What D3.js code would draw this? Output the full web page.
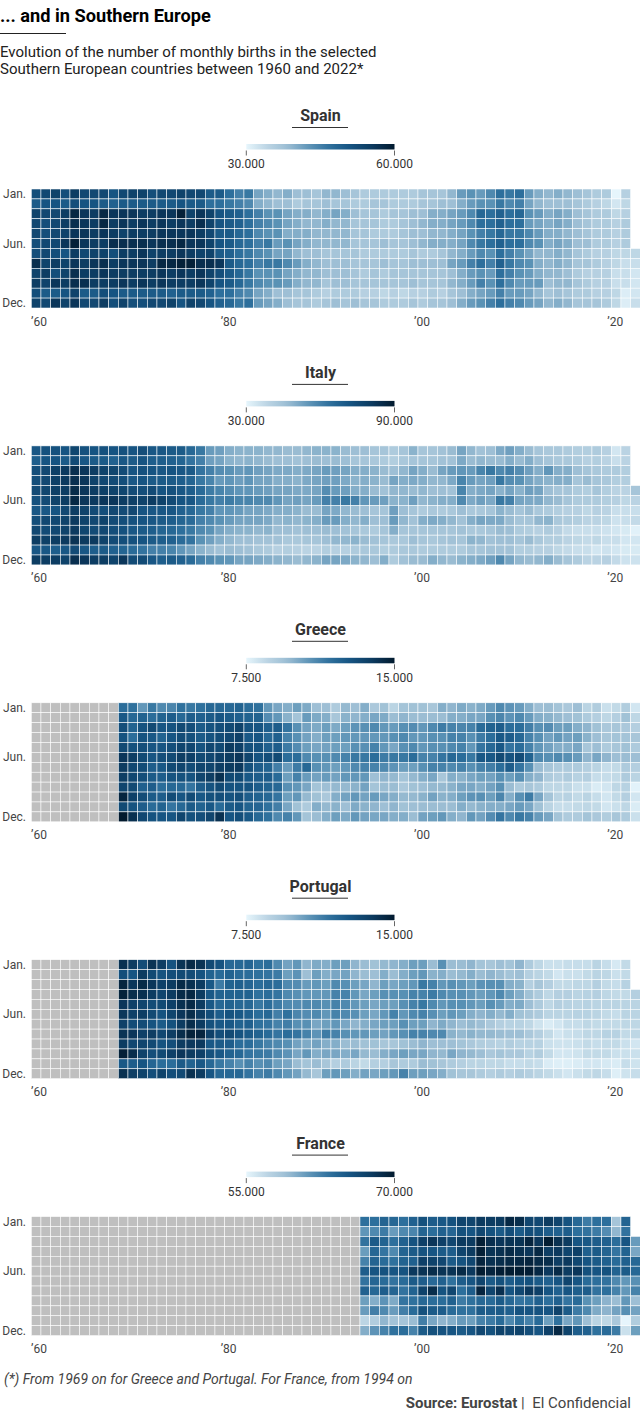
<!DOCTYPE html>
<html lang="en">
    <head>
        <meta charset="UTF-8" />
        <title>Southern Europe births</title>
        <style>
            html,
            body {
                margin: 0;
                background: #fff;
            }

            text {
                font-family: Roboto, sans-serif;
            }
        </style>
    </head>
    <body>
        <svg id="chart"></svg>
        <script src="https://cdn.jsdelivr.net/npm/d3@7"></script>
        <script>
            const _ = null;
            const width = 640;
            const height = 1416;

            const years = d3.range(1960, 2023);
            const months = ["Jan.", "Feb.", "Mar.", "Apr.", "May", "Jun.", "Jul.", "Aug.", "Sep.", "Oct.", "Nov.", "Dec."];
            const monthLabels = ["Jan.", "Jun.", "Dec."];
            const yearTicks = [1960, 1980, 2000, 2020];

            // Spain, thousands of births, one row per month
            const spain = [
                [52,53,54,52,55,53,53,53,51,53, 54,54,52,53,53,54,53,53,50,50, 47,45,46,41,40,39,40,38,38,37, 39,39,38,37,36,36,36,36,36,36, 37,37,37,39,42,43,42,44,47,46, 47,42,40,39,40,39,38,37,36,36, 30,35,_],
                [50,51,51,50,52,51,51,50,49,50, 50,50,50,50,50,51,50,50,47,47, 46,45,44,40,39,38,38,36,37,37, 38,37,37,36,36,37,37,36,36,36, 37,37,38,38,40,42,43,43,46,44, 45,41,39,38,38,38,37,36,35,34, 32,34,_],
                [54,53,53,55,58,56,55,58,56,56, 56,55,55,56,56,59,54,56,54,51, 50,49,47,45,43,43,41,40,40,39, 40,41,40,38,37,37,36,37,37,38, 38,40,40,41,42,44,48,47,49,47, 48,43,42,40,41,40,38,37,36,36, 34,35,_],
                [53,52,53,55,57,56,55,58,55,56, 55,56,55,56,55,56,55,57,54,51, 50,49,47,45,44,43,41,40,39,39, 40,39,39,37,37,37,36,36,37,38, 39,40,40,41,42,44,47,47,49,47, 47,42,41,40,41,40,38,37,36,36, 35,36,_],
                [53,52,53,54,56,56,55,56,55,54, 55,55,55,56,56,56,56,55,53,50, 50,48,47,44,43,43,40,40,40,39, 39,39,39,37,37,36,36,36,37,38, 38,39,39,40,41,43,45,46,48,46, 46,44,42,40,40,39,38,37,36,36, 35,36,_],
                [52,53,53,56,59,56,55,55,57,57, 57,57,56,57,57,58,56,56,54,51, 50,48,47,45,46,42,43,41,40,39, 39,39,39,37,37,37,38,37,37,38, 39,40,40,40,41,44,46,47,49,47, 47,44,43,40,41,40,38,38,36,36, 35,36,_],
                [52,53,52,51,55,53,54,54,52,55, 55,56,54,55,55,56,55,54,54,50, 49,47,46,44,43,41,41,39,38,38, 37,37,37,37,36,36,36,36,36,37, 36,36,37,39,40,42,44,43,47,45, 43,41,39,39,40,39,37,36,35,35, 34,34,34],
                [57,54,55,54,56,55,56,57,55,56, 56,56,55,58,58,59,59,57,57,56, 50,48,47,45,46,46,44,42,40,39, 38,38,38,37,37,37,38,37,37,38, 38,38,38,41,42,45,47,45,49,46, 44,43,40,39,40,39,37,37,36,35, 34,33,33],
                [54,55,52,54,57,55,55,56,55,55, 55,55,55,56,55,56,55,56,54,52, 50,48,46,43,43,43,41,40,39,39, 38,38,38,37,36,37,36,37,37,37, 37,37,37,38,40,42,43,42,47,45, 43,42,40,39,39,38,36,35,35,35, 33,33,32],
                [55,54,56,55,57,57,55,55,55,56, 55,56,55,56,55,55,55,56,54,51, 50,48,46,44,43,43,42,40,39,39, 37,38,38,37,37,37,37,37,37,38, 37,37,37,39,40,42,45,43,47,44, 42,42,42,38,39,39,37,36,35,35, 33,33,32],
                [52,50,50,51,54,50,50,52,51,50, 50,50,50,50,49,50,50,50,49,47, 47,45,44,41,40,38,38,37,37,36, 35,36,36,36,35,35,34,35,34,35, 35,36,35,37,38,40,41,42,45,42, 42,41,39,37,38,37,36,36,35,35, 34,31,32],
                [54,53,56,54,56,53,53,55,52,54, 52,52,53,53,54,51,54,53,51,49, 48,46,47,42,41,40,38,37,37,36, 37,38,37,38,37,37,36,36,36,37, 36,37,37,38,40,42,43,45,47,45, 44,42,41,39,40,39,37,37,37,36, 34,31,33]
            ];

            // Italy, thousands of births
            const italy = [
                [71,73,73,72,77,73,72,73,72,73, 72,74,71,71,70,70,66,62,54,53, 50,49,49,49,48,48,47,47,48,49, 49,49,47,46,46,44,44,42,44,49, 44,44,45,47,52,48,45,46,51,53, 50,47,44,43,43,42,41,41,42,40, 34,39,_],
                [69,72,72,70,75,71,70,70,68,71, 70,72,69,69,68,67,63,60,53,52, 49,48,49,48,47,46,46,45,46,47, 46,47,46,44,44,43,42,41,43,44, 44,44,45,45,51,47,48,47,47,50, 47,50,46,44,43,43,42,40,41,39, 36,39,_],
                [74,76,79,81,84,82,80,78,77,75, 72,73,72,71,72,71,70,63,60,57, 56,54,55,53,52,51,51,50,51,52, 54,53,52,50,50,49,47,46,48,52, 50,47,52,54,55,54,59,62,58,60, 57,53,50,55,50,50,46,44,43,42, 42,41,_],
                [74,76,79,81,84,82,78,76,75,74, 71,72,70,70,70,69,67,62,59,54, 55,53,55,52,52,50,50,49,51,52, 53,53,51,49,50,49,47,52,50,51, 50,48,48,51,59,54,52,53,62,57, 56,52,50,49,50,50,44,47,44,43, 41,41,_],
                [75,77,79,80,85,82,80,79,78,77, 75,74,75,72,73,71,69,65,61,59, 57,55,55,54,53,52,52,51,51,52, 57,54,53,50,50,47,45,48,48,47, 48,46,46,45,59,50,51,52,49,52, 49,53,52,46,44,44,42,41,44,41, 39,39,44],
                [73,75,78,80,86,82,81,82,82,80, 79,78,80,78,75,72,71,65,62,60, 61,59,59,58,58,55,52,53,52,54, 60,60,62,60,55,54,53,49,49,53, 48,49,50,50,58,51,53,51,62,60, 52,51,51,48,47,44,42,42,42,41, 40,38,39],
                [71,71,72,76,80,78,75,74,76,75, 76,72,71,71,71,68,66,62,60,55, 55,54,52,52,51,50,50,49,47,47, 52,51,48,47,46,44,44,53,46,44, 42,43,42,43,46,43,43,44,49,47, 44,47,43,42,41,40,40,38,40,39, 36,36,36],
                [74,76,76,78,81,78,76,78,75,74, 73,72,71,70,69,67,65,60,58,56, 54,52,52,52,51,48,49,48,49,50, 54,54,50,48,50,46,46,54,48,45, 50,51,50,48,45,50,52,51,51,47, 44,44,48,49,43,42,41,39,39,38, 35,36,37],
                [76,75,76,78,81,77,75,76,74,73, 71,70,69,67,66,64,62,58,56,52, 50,49,49,48,49,46,46,45,46,46, 47,46,45,44,43,42,44,50,44,44, 44,44,44,44,45,43,43,44,47,46, 42,41,40,42,40,37,36,36,36,35, 34,33,31],
                [80,79,80,81,83,81,81,78,75,74, 73,72,70,69,68,65,63,56,53,50, 48,46,46,45,45,45,43,43,44,44, 46,48,48,49,47,45,44,43,43,46, 44,43,44,45,44,49,48,45,46,46, 44,47,43,41,41,39,38,37,38,36, 36,34,34],
                [71,71,69,71,75,71,69,70,68,67, 65,63,60,60,59,55,52,49,47,45, 47,46,45,43,42,40,41,40,39,39, 41,40,40,42,43,43,41,42,43,43, 42,42,42,42,42,44,44,45,45,45, 41,41,40,40,38,37,36,36,34,35, 34,33,33],
                [80,80,80,78,84,82,80,80,78,82, 75,75,71,69,70,68,65,60,58,56, 55,52,52,51,50,49,48,47,48,49, 52,52,51,49,48,46,50,42,45,47, 47,50,48,47,49,50,51,53,58,52, 48,47,48,50,47,44,42,39,39,40, 37,35,35]
            ];

            // Greece, hundreds of births
            const greece = [
                [_,_,_,_,_,_,_,_,_,118, 117,106,115,110,111,117,115,117,120,120, 120,122,118,117,106,102,100,104,101,95, 95,90,97,95,100,91,94,86,93,94, 94,92,100,98,101,99,101,105,110,107, 105,100,95,96,93,91,95,86,89,82, 84,89,80],
                [_,_,_,_,_,_,_,_,_,126, 120,122,118,122,124,120,124,123,125,127, 125,123,122,122,109,106,99,93,105,101, 100,92,99,98,100,102,101,96,98,96, 96,96,96,100,100,102,102,108,111,107, 110,105,100,99,97,95,94,90,88,85, 88,94,85],
                [_,_,_,_,_,_,_,_,_,130, 122,128,132,127,128,132,130,125,128,130, 132,135,128,127,123,124,116,108,103,101, 104,101,104,107,108,110,106,105,108,109, 106,110,114,112,111,112,119,122,124,118, 118,113,108,109,104,104,100,98,94,91, 92,91,88],
                [_,_,_,_,_,_,_,_,_,128, 118,128,126,122,127,131,129,125,128,131, 133,136,126,127,120,123,112,108,103,100, 104,104,106,106,106,106,106,108,110,106, 106,108,108,112,112,108,114,118,126,124, 120,112,108,103,106,103,104,99,95,92, 93,93,92],
                [_,_,_,_,_,_,_,_,_,132, 129,130,127,127,130,134,133,128,133,132, 138,136,129,128,123,124,114,109,104,102, 103,104,104,108,108,112,106,102,108,110, 106,108,108,110,112,106,116,120,126,116, 118,112,106,103,100,100,102,92,95,90, 92,94,90],
                [_,_,_,_,_,_,_,_,_,140, 137,132,127,130,132,137,136,132,133,136, 138,140,134,128,130,132,118,118,110,108, 108,110,112,115,115,118,114,115,115,118, 112,112,116,120,118,115,126,126,132,128, 131,122,110,108,110,108,105,98,102,98, 95,96,95],
                [_,_,_,_,_,_,_,_,_,138, 133,131,124,126,132,134,131,134,134,137, 138,139,129,124,122,113,105,114,120,108, 106,104,106,110,112,112,110,107,104,104, 108,112,112,110,112,108,112,113,118,124, 116,108,96,92,90,90,90,88,86,83, 84,90,88],
                [_,_,_,_,_,_,_,_,_,137, 133,130,125,124,128,129,128,134,137,142, 132,132,126,124,124,119,104,112,105,103, 105,103,106,106,106,95,98,97,93,97, 100,102,92,100,99,102,104,103,108,104, 108,100,98,90,88,90,87,88,83,83, 84,90,86],
                [_,_,_,_,_,_,_,_,_,134, 132,123,124,118,120,120,116,124,128,132, 128,128,128,124,122,120,108,106,102,93, 95,97,97,99,103,93,96,96,91,94, 95,97,97,99,102,102,100,103,108,96, 90,92,90,85,85,85,82,82,78,80, 85,87,76],
                [_,_,_,_,_,_,_,_,_,146, 136,131,125,124,131,127,131,126,129,130, 128,130,124,122,120,116,104,106,97,94, 91,100,103,106,103,105,102,100,97,97, 99,103,99,100,104,107,108,104,111,100, 108,114,102,93,86,87,84,86,83,80, 84,88,80],
                [_,_,_,_,_,_,_,_,_,132, 128,124,119,122,116,120,125,122,126,119, 125,127,122,121,117,113,102,94,90,100, 97,99,95,101,99,98,95,98,94,95, 96,96,96,96,100,97,99,100,100,102, 105,102,94,86,83,83,84,85,84,80, 82,85,78],
                [_,_,_,_,_,_,_,_,_,150, 142,133,128,127,127,134,129,130,134,142, 127,130,126,120,117,110,112,106,93,96, 100,104,101,106,103,102,102,100,100,96, 103,104,106,100,98,106,103,109,116,110, 115,112,105,102,93,90,90,93,91,89, 92,90,82]
            ];

            // Portugal, hundreds of births
            const portugal = [
                [_,_,_,_,_,_,_,_,_,142, 138,131,141,137,128,141,144,141,132,128, 120,120,121,117,118,110,103,106,98,101, 100,104,104,98,96,94,97,98,100,104, 104,96,108,96,96,98,93,92,95,93, 98,90,85,82,82,83,83,83,86,83, 79,84,_],
                [_,_,_,_,_,_,_,_,_,130, 127,138,132,128,130,132,131,128,122,119, 122,119,118,117,116,114,104,107,95,104, 100,102,103,98,96,95,100,96,100,104, 106,99,100,96,97,100,96,98,96,93, 95,88,86,84,80,82,82,84,86,85, 82,84,_],
                [_,_,_,_,_,_,_,_,_,146, 140,144,140,136,138,144,142,138,126,114, 122,123,121,118,120,118,110,109,105,106, 104,110,108,104,102,98,104,102,104,106, 115,112,106,108,106,104,107,108,108,100, 99,88,92,88,84,84,85,85,88,84, 83,87,_],
                [_,_,_,_,_,_,_,_,_,147, 143,142,138,134,138,144,145,138,126,122, 122,122,122,117,118,116,110,108,106,106, 106,112,112,106,102,104,108,108,108,112, 112,114,110,108,108,106,104,106,110,104, 100,94,90,85,88,88,86,87,88,85, 84,84,88],
                [_,_,_,_,_,_,_,_,_,140, 136,134,131,132,136,142,144,138,126,120, 122,120,120,115,118,114,110,109,110,110, 108,112,110,106,104,102,104,104,108,112, 115,110,106,108,108,106,104,108,105,100, 101,95,90,85,88,87,86,87,86,86, 86,86,86],
                [_,_,_,_,_,_,_,_,_,140, 136,137,132,128,134,140,143,137,130,124, 128,126,123,118,120,113,117,111,109,110, 106,112,110,108,104,102,106,112,106,110, 112,108,104,106,104,100,98,100,97,100, 94,92,90,86,86,86,87,87,86,84, 83,86,86],
                [_,_,_,_,_,_,_,_,_,136, 131,131,128,125,129,138,143,138,129,126, 126,122,123,117,116,112,113,108,108,102, 104,106,102,98,100,102,104,104,108,104, 104,98,101,98,95,97,95,91,88,87, 87,85,81,78,80,83,83,85,84,84, 84,85,85],
                [_,_,_,_,_,_,_,_,_,141, 140,136,137,133,137,143,147,146,136,130, 132,128,125,122,119,116,118,116,112,107, 114,112,108,106,106,104,103,106,108,112, 112,110,110,99,97,99,97,97,96,95, 95,91,88,84,80,82,83,85,85,87, 87,84,85],
                [_,_,_,_,_,_,_,_,_,138, 133,134,132,128,130,138,139,139,126,125, 124,118,118,115,112,110,108,103,101,103, 100,100,96,96,94,94,92,92,94,96, 98,95,95,95,93,91,89,88,87,89, 87,87,87,82,81,81,82,84,83,84, 84,82,80],
                [_,_,_,_,_,_,_,_,_,148, 143,135,130,132,136,140,138,136,129,126, 122,120,116,115,114,110,107,102,106,100, 102,102,100,102,97,96,100,102,104,102, 102,98,97,102,98,97,95,91,93,91, 91,87,89,84,80,80,81,84,84,84, 82,82,82],
                [_,_,_,_,_,_,_,_,_,126, 124,127,121,118,118,125,122,126,120,115, 112,108,112,108,110,104,102,96,93,96, 92,88,90,86,84,88,88,92,90,90, 96,94,92,90,88,86,86,85,85,83, 83,84,83,78,77,77,78,80,80,79, 78,83,81],
                [_,_,_,_,_,_,_,_,_,142, 137,135,130,135,130,132,142,138,127,120, 120,120,116,112,114,110,106,103,97,92, 104,106,104,100,103,102,104,106,112,104, 104,102,100,94,92,92,90,88,90,88, 90,88,86,84,82,80,82,84,85,83, 77,81,83]
            ];

            // France, hundreds of births
            const none30 = [_,_,_,_,_,_,_,_,_,_, _,_,_,_,_,_,_,_,_,_, _,_,_,_,_,_,_,_,_,_];
            const france = [
                [...none30, _,_,_,_,635,635,643,641,635,645, 658,649,652,657,668,667,677,675,677,690, 686,667,665,676,668,656,640,628,635,635, 585,643,_],
                [...none30, _,_,_,_,613,620,628,610,620,622, 643,636,645,642,658,654,666,657,650,660, 650,660,658,648,645,648,635,633,628,618, 595,633,_],
                [...none30, _,_,_,_,633,650,644,635,645,656, 672,680,672,666,677,676,696,685,680,682, 682,692,680,698,684,677,654,652,648,645, 636,654,610],
                [...none30, _,_,_,_,609,641,632,620,643,650, 656,654,650,648,668,676,696,682,684,688, 684,680,690,674,678,668,672,646,650,643, 632,644,604],
                [...none30, _,_,_,_,624,643,638,634,644,646, 672,670,666,650,656,666,692,684,686,689, 690,692,688,686,674,678,666,654,650,645, 638,646,640],
                [...none30, _,_,_,_,648,655,657,654,656,678, 682,686,682,682,688,678,698,692,697,698, 698,697,690,678,688,676,680,658,654,657, 644,650,640],
                [...none30, _,_,_,_,633,642,638,633,638,650, 648,639,645,634,648,654,668,650,658,648, 654,657,650,645,654,668,654,638,635,633, 620,612,616],
                [...none30, _,_,_,_,645,641,648,643,633,644, 670,686,656,666,635,648,692,668,685,655, 665,678,672,654,645,654,647,648,633,635, 624,612,624],
                [...none30, _,_,_,_,608,600,614,602,632,634, 640,636,636,645,628,634,640,638,650,640, 632,634,645,635,645,632,638,615,608,597, 592,612,590],
                [...none30, _,_,_,_,610,626,620,610,626,638, 658,650,648,638,634,634,650,648,650,646, 656,654,656,654,670,650,628,620,602,597, 606,616,606],
                [...none30, _,_,_,_,571,578,595,587,585,592, 626,604,596,600,610,608,624,628,638,620, 634,624,638,608,634,604,612,590,572,570, 582,550,578],
                [...none30, _,_,_,_,600,614,624,634,636,624, 650,658,656,654,650,654,666,658,670,666, 670,660,654,672,690,670,648,645,634,638, 628,564,608]
            ];

            const countries = ["Spain", "Italy", "Greece", "Portugal", "France"];
            const values = [spain, italy, greece, portugal, france];
            const domains = [[30, 60], [30, 90], [75, 150], [75, 150], [550, 700]];
            const legendLabels = [["30.000", "60.000"], ["30.000", "90.000"], ["7.500", "15.000"], ["7.500", "15.000"], ["55.000", "70.000"]];
            const firstYears = [1960, 1960, 1969, 1969, 1994];

            const panelStep = 256.9;
            const grid = { left: 31.3, top: 189, width: 609, height: 119 };

            const svg = d3.select("#chart").attr("width", width).attr("height", height).style("display", "block");

            const ramp = d3
                .scaleLinear()
                .domain([0, 0.14, 0.28, 0.42, 0.57, 0.7, 0.85, 1])
                .range(["#e6f5fc", "#bcd5e4", "#9bbdd3", "#5f95b8", "#2c6e9b", "#165482", "#0c3a5f", "#021a2e"]);

            const x = d3.scaleBand().domain(years).range([grid.left, grid.left + grid.width]);
            const y = d3.scaleBand().domain(months).range([0, grid.height]);

            // gradient for the legends
            const gradient = svg.append("defs").append("linearGradient").attr("id", "legend-ramp");
            d3.range(0, 1.01, 0.05).forEach(t => {
                gradient.append("stop").attr("offset", t).attr("stop-color", ramp(t));
            });

            svg.append("text")
                .attr("x", 0)
                .attr("y", 22)
                .attr("font-size", 18.2)
                .attr("font-weight", 700)
                .attr("fill", "#000")
                .text("... and in Southern Europe");

            svg.append("line").attr("x1", 0).attr("x2", 66).attr("y1", 33.5).attr("y2", 33.5).attr("stroke", "#222");

            ["Evolution of the number of monthly births in the selected", "Southern European countries between 1960 and 2022*"].forEach((t, i) => {
                svg.append("text")
                    .attr("x", 0)
                    .attr("y", 57 + i * 17)
                    .attr("font-size", 15)
                    .attr("fill", "#222")
                    .text(t);
            });

            countries.forEach((name, p) => {
                const g = svg.append("g").attr("transform", `translate(0,${p * panelStep})`);
                const legendScale = d3.scaleLinear().domain(domains[p]).range([246.3, 394.5]);
                const color = d3.scaleLinear().domain(domains[p]).range([0, 1]).clamp(true);

                g.append("text")
                    .attr("x", 320.5)
                    .attr("y", 121)
                    .attr("text-anchor", "middle")
                    .attr("font-size", 16)
                    .attr("font-weight", 700)
                    .attr("fill", "#333")
                    .text(name);

                g.append("line").attr("x1", 292).attr("x2", 348).attr("y1", 127.5).attr("y2", 127.5).attr("stroke", "#333");

                g.append("rect")
                    .attr("x", legendScale.range()[0])
                    .attr("y", 144)
                    .attr("width", legendScale.range()[1] - legendScale.range()[0])
                    .attr("height", 5.5)
                    .attr("fill", "url(#legend-ramp)");

                domains[p].forEach((d, i) => {
                    g.append("line")
                        .attr("x1", legendScale(d))
                        .attr("x2", legendScale(d))
                        .attr("y1", 150.5)
                        .attr("y2", 155.5)
                        .attr("stroke", "#666");
                    g.append("text")
                        .attr("x", legendScale(d))
                        .attr("y", 168)
                        .attr("text-anchor", "middle")
                        .attr("font-size", 12)
                        .attr("fill", "#333")
                        .text(legendLabels[p][i]);
                });

                const cells = [];
                months.forEach((m, r) => {
                    years.forEach((yr, c) => {
                        const v = values[p][r][c];
                        if (v !== null || yr < firstYears[p]) cells.push({ m, yr, v });
                    });
                });

                g.append("g")
                    .attr("transform", `translate(0,${grid.top})`)
                    .selectAll("rect")
                    .data(cells)
                    .enter()
                    .append("rect")
                    .attr("x", d => x(d.yr))
                    .attr("y", d => y(d.m))
                    .attr("width", x.bandwidth())
                    .attr("height", y.bandwidth())
                    .attr("fill", d => (d.v === null ? "#bfbfbf" : ramp(color(d.v))))
                    .attr("stroke", "#fff")
                    .attr("stroke-width", 0.55);

                monthLabels.forEach(m => {
                    g.append("text")
                        .attr("x", 26)
                        .attr("y", grid.top + y(m) + y.bandwidth() / 2 + 4)
                        .attr("text-anchor", "end")
                        .attr("font-size", 12)
                        .attr("fill", "#444")
                        .text(m);
                });

                yearTicks.forEach(yr => {
                    g.append("text")
                        .attr("x", Math.max(39, x(yr) + 4))
                        .attr("y", 325.5)
                        .attr("text-anchor", "middle")
                        .attr("font-size", 12)
                        .attr("fill", "#444")
                        .text("’" + String(yr).slice(2));
                });
            });

            svg.append("text")
                .attr("x", 4)
                .attr("y", 1384)
                .attr("font-size", 14)
                .attr("font-style", "italic")
                .attr("fill", "#444")
                .text("(*) From 1969 on for Greece and Portugal. For France, from 1994 on");

            const source = svg
                .append("text")
                .attr("x", 631)
                .attr("y", 1408)
                .attr("text-anchor", "end")
                .attr("font-size", 15)
                .attr("fill", "#444");
            source.append("tspan").attr("font-weight", 700).text("Source: Eurostat");
            source.append("tspan").attr("xml:space", "preserve").text(" |  El Confidencial");
        </script>
    </body>
</html>
